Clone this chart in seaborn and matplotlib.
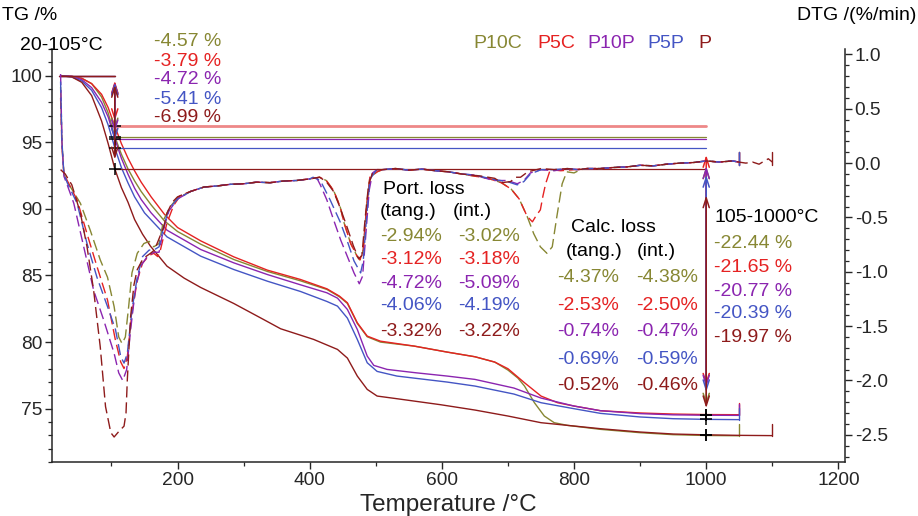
import numpy as np
import pandas as pd
import matplotlib
matplotlib.use("Agg")
import matplotlib.pyplot as plt
from matplotlib.ticker import MultipleLocator, FormatStrFormatter
import seaborn as sns

# ---------------------------------------------------------------- data
samples = ["P10C", "P5C", "P10P", "P5P", "P"]
palette = {"P10C": "#878733", "P5C": "#E52222", "P10P": "#8B25B0",
           "P5P": "#4455C4", "P": "#8E1B1B"}

loss_20_105 = [-4.57, -3.79, -4.72, -5.41, -6.99]
loss_105_1000 = [-22.44, -21.65, -20.77, -20.39, -19.97]
port_tang = [-2.94, -3.12, -4.72, -4.06, -3.32]
port_int = [-3.02, -3.18, -5.09, -4.19, -3.22]
calc_tang = [-4.37, -2.53, -0.74, -0.69, -0.52]
calc_int = [-4.38, -2.50, -0.47, -0.59, -0.46]

# TG curves (temperature in °C, mass in %)
tg_T = {
    "P10C": [23, 40, 55, 70, 85, 95, 105, 115, 125, 135, 145, 160, 180, 200, 235, 285, 336, 386,
             426, 445, 457, 472, 487, 507, 558, 608, 650, 680, 700, 715, 725, 740, 755, 770, 790,
             840, 900, 950, 1000, 1049],
    "P5C": [23, 40, 55, 70, 85, 95, 105, 115, 125, 135, 145, 160, 180, 200, 235, 285, 336, 386,
            426, 445, 457, 472, 487, 507, 558, 608, 650, 680, 700, 725, 750, 775, 800, 840, 900,
            950, 1000, 1049],
    "P10P": [23, 40, 55, 70, 85, 95, 105, 115, 125, 135, 145, 160, 184, 235, 285, 336, 386, 426,
             442, 457, 472, 487, 497, 517, 560, 608, 650, 709, 750, 800, 840, 900, 950, 1000, 1049],
    "P5P": [23, 40, 55, 70, 85, 95, 105, 115, 125, 135, 150, 184, 235, 285, 336, 386, 426, 442,
            457, 472, 487, 502, 532, 608, 650, 709, 750, 800, 840, 900, 950, 1000, 1049],
    "P": [23, 40, 55, 70, 85, 95, 105, 115, 125, 135, 147, 159, 184, 210, 235, 285, 330, 356, 406,
          442, 457, 472, 487, 502, 532, 598, 650, 700, 750, 800, 840, 900, 950, 1000, 1050, 1100],
}
tg_val = {
    "P10C": [100.0, 99.95, 99.8, 99.4, 98.4, 97.2, 95.43, 94.1, 93.0, 92.1, 91.3, 90.3, 89.1, 88.3,
             87.35, 86.2, 85.3, 84.6, 83.95, 83.4, 82.9, 81.4, 80.4, 80.0, 79.7, 79.25, 78.9, 78.5,
             77.9, 77.3, 76.7, 75.45, 74.45, 73.95, 73.75, 73.45, 73.2, 73.05, 72.99, 72.97],
    "P5C": [100.0, 99.95, 99.8, 99.4, 98.6, 97.6, 96.21, 94.9, 93.8, 92.85, 92.0, 90.9, 89.6, 88.6,
            87.6, 86.4, 85.4, 84.7, 84.0, 83.45, 82.95, 81.45, 80.45, 80.07, 79.7, 79.25, 78.9,
            78.5, 78.0, 76.95, 75.95, 75.45, 75.2, 74.85, 74.68, 74.6, 74.56, 74.55],
    "P10P": [100.0, 99.95, 99.7, 99.1, 98.0, 96.9, 95.28, 93.8, 92.6, 91.55, 90.7, 89.7, 88.4,
             86.95, 85.95, 85.07, 84.3, 83.7, 83.3, 82.45, 80.95, 78.95, 78.25, 77.95, 77.7, 77.45,
             77.2, 76.55, 75.8, 75.2, 74.85, 74.63, 74.54, 74.51, 74.5],
    "P5P": [100.0, 99.9, 99.6, 98.9, 97.6, 96.3, 94.59, 93.1, 91.95, 90.9, 89.7, 87.9, 86.45, 85.45,
            84.57, 83.8, 83.05, 82.7, 81.8, 80.2, 78.45, 77.8, 77.45, 77.0, 76.7, 76.1, 75.45, 75.0,
            74.65, 74.38, 74.25, 74.2, 74.18],
    "P": [100.0, 99.9, 99.5, 98.5, 96.6, 94.9, 93.01, 91.6, 90.5, 89.2, 88.1, 87.2, 85.7, 84.8,
          84.1, 82.9, 81.7, 81.0, 80.2, 79.45, 78.8, 77.45, 76.45, 75.95, 75.75, 75.3, 74.9, 74.45,
          73.95, 73.7, 73.5, 73.25, 73.1, 73.04, 73.0, 72.98],
}

# DTG curves (%/min); shared stretches where the curves run on top of each other
mid_T = [220, 240, 260, 280, 300, 320, 340, 360, 380, 400]
mid_v = [-0.26, -0.22, -0.21, -0.195, -0.19, -0.175, -0.18, -0.165, -0.16, -0.145]
flat_T = [510, 530, 550, 570, 590, 610, 630]
flat_v = [-0.06, -0.05, -0.065, -0.055, -0.07, -0.08, -0.1]
end_T = [820, 840, 860, 880, 900, 920, 940, 960, 980, 1000, 1020, 1040, 1049]
end_v = [-0.05, -0.05, -0.04, -0.035, -0.02, -0.025, -0.01, 0.0, 0.005, 0.02, 0.01, 0.02, 0.01]

dtg_T = {
    "P10C": [23, 25, 28, 33, 43, 53, 68, 83, 94, 104, 111, 116, 121, 126, 131, 139, 149, 157, 164,
             172, 179, 189, 200] + mid_T +
            [415, 425, 436, 446, 452, 462, 472, 476, 481, 486, 491, 502] + flat_T +
            [650, 670, 690, 705, 717, 729, 739, 749, 759, 767, 774, 782, 789, 800, 810] + end_T,
    "P5C": [23, 25, 28, 33, 48, 63, 78, 94, 106, 114, 119, 124, 131, 139, 147, 157, 164, 170, 174,
            184, 194, 204] + mid_T +
           [415, 425, 436, 446, 452, 462, 472, 476, 481, 486, 491, 502] + flat_T +
           [650, 670, 690, 705, 717, 729, 737, 742, 749, 753, 757, 764, 780, 800] + end_T,
    "P10P": [23, 25, 28, 33, 43, 58, 73, 88, 104, 111, 117, 123, 129, 136, 144, 154, 164, 172, 179,
             187, 200] + mid_T +
            [411, 416, 426, 436, 447, 457, 467, 475, 480, 485, 490, 495, 502] + flat_T +
            [650, 678, 699, 714, 724, 734, 750, 770, 790, 805] + end_T,
    "P5P": [23, 25, 28, 33, 48, 63, 78, 94, 106, 114, 119, 124, 131, 139, 147, 157, 164, 172, 179,
            187, 200] + mid_T +
           [405, 416, 431, 446, 457, 467, 477, 481, 486, 491, 500] + flat_T +
           [650, 678, 699, 714, 724, 734, 750, 770, 790, 805] + end_T,
    "P": [23, 30, 40, 53, 63, 73, 83, 91, 99, 104, 111, 119, 122, 124, 129, 134, 139, 146, 152,
          159, 165, 169, 175, 179, 184, 192, 200] + mid_T +
         [415, 425, 436, 446, 456, 466, 474, 479, 484, 489, 495, 502] + flat_T +
         [660, 680, 690, 704, 712, 719, 730, 750, 770, 790, 805] + end_T +
         [1060, 1070, 1080, 1088, 1094, 1100],
}
dtg_val = {
    "P10C": [0.70, 0.2, -0.1, -0.17, -0.27, -0.37, -0.62, -0.89, -1.05, -1.32, -1.6, -1.66, -1.6,
             -1.32, -1.01, -0.83, -0.74, -0.72, -0.77, -0.74, -0.52, -0.40, -0.32] + mid_v +
            [-0.13, -0.16, -0.25, -0.40, -0.55, -0.74, -0.86, -0.89, -0.8, -0.4, -0.13, -0.08] +
            flat_v +
            [-0.12, -0.14, -0.18, -0.24, -0.33, -0.49, -0.65, -0.77, -0.83, -0.77, -0.49, -0.19,
             -0.08, -0.09, -0.06] + end_v,
    "P5C": [0.6, 0.15, -0.1, -0.16, -0.34, -0.65, -0.95, -1.26, -1.63, -1.83, -1.89, -1.78, -1.38,
            -1.08, -0.92, -0.85, -0.83, -0.86, -0.8, -0.55, -0.39, -0.3] + mid_v +
           [-0.13, -0.16, -0.25, -0.40, -0.55, -0.74, -0.86, -0.89, -0.8, -0.4, -0.13, -0.08] +
           flat_v +
           [-0.12, -0.14, -0.18, -0.24, -0.33, -0.49, -0.54, -0.49, -0.43, -0.3, -0.19, -0.06,
            -0.07, -0.06] + end_v,
    "P10P": [0.82, 0.2, -0.12, -0.2, -0.37, -0.77, -1.17, -1.44, -1.75, -1.93, -2.0, -1.9, -1.53,
             -1.17, -0.95, -0.86, -0.82, -0.82, -0.6, -0.44, -0.33] + mid_v +
            [-0.14, -0.2, -0.34, -0.52, -0.71, -0.86, -1.01, -1.11, -1.04, -0.65, -0.25, -0.09,
             -0.06] + flat_v +
            [-0.11, -0.16, -0.16, -0.19, -0.16, -0.09, -0.06, -0.07, -0.05, -0.06] + end_v,
    "P5P": [0.75, 0.2, -0.1, -0.18, -0.37, -0.74, -1.05, -1.32, -1.53, -1.78, -1.84, -1.75, -1.35,
            -1.05, -0.86, -0.8, -0.8, -0.77, -0.58, -0.42, -0.33] + mid_v +
           [-0.13, -0.16, -0.34, -0.54, -0.72, -0.9, -1.01, -0.9, -0.5, -0.15, -0.07] + flat_v +
           [-0.11, -0.15, -0.17, -0.2, -0.17, -0.1, -0.06, -0.06, -0.05, -0.06] + end_v,
    "P": [-0.06, -0.1, -0.2, -0.46, -0.77, -1.17, -1.69, -2.24, -2.48, -2.52, -2.47, -2.42, -2.3,
          -1.99, -1.41, -1.12, -0.98, -0.9, -0.86, -0.83, -0.8, -0.74, -0.65, -0.59, -0.46, -0.36,
          -0.31] + mid_v +
         [-0.13, -0.17, -0.26, -0.41, -0.58, -0.76, -0.88, -0.85, -0.5, -0.2, -0.09, -0.06] +
         flat_v +
         [-0.12, -0.14, -0.18, -0.17, -0.13, -0.13, -0.08, -0.05, -0.06, -0.05, -0.06] + end_v +
         [0.0, 0.01, -0.01, 0.02, 0.04, 0.01],
}

tg_df = pd.concat([pd.DataFrame({"T": tg_T[s], "TG": tg_val[s], "sample": s}) for s in samples])
dtg_df = pd.concat([pd.DataFrame({"T": dtg_T[s], "DTG": dtg_val[s], "sample": s}) for s in samples])

tg_105 = {s: 100 + l for s, l in zip(samples, loss_20_105)}
tg_1000 = {s: tg_105[s] + l for s, l in zip(samples, loss_105_1000)}

# ---------------------------------------------------------------- style
sns.set_style("ticks")
plt.rcParams["font.family"] = ["Liberation Sans", "DejaVu Sans"]
plt.rcParams["axes.unicode_minus"] = False
FS = 14
TFS = 13.8

W, H = 918, 516
fig = plt.figure(figsize=(W / 100, H / 100), dpi=100)
L, R, T, B = 52, 845, 49, 462
ax = fig.add_axes([L / W, 1 - B / H, (R - L) / W, (B - T) / H])
ax2 = ax.twinx()

# ---------------------------------------------------------------- TG (solid)
for s in samples:
    d = tg_df[tg_df["sample"] == s]
    sns.lineplot(data=d, x="T", y="TG", ax=ax, color=palette[s], lw=1.0,
                 estimator=None, sort=False, legend=False)
    # end-of-run marker
    ax.plot([d["T"].iloc[-1]] * 2, [d["TG"].iloc[-1], d["TG"].iloc[-1] + 0.85],
            color=palette[s], lw=1.0)

# ---------------------------------------------------------------- step evaluation
for s in samples:
    c = palette[s]
    lw_ref = 2.0 if s == "P5C" else 0.9
    c_ref = "#EE8888" if s == "P5C" else c
    ax.plot([20, 105], [100, 100], color=c, lw=0.9)
    ax.plot([105, 1000], [tg_105[s], tg_105[s]], color=c_ref, lw=lw_ref)

for s in samples:
    c = palette[s]
    for T0, a, b in [(105, 100.0, tg_105[s]), (1000, tg_105[s], tg_1000[s])]:
        m = 0.1 * (a - b)
        ax.annotate("", xy=(T0, b + m), xytext=(T0, a - m),
                    arrowprops=dict(arrowstyle="<->,head_length=0.7,head_width=0.22",
                                    color=c, lw=1.1, shrinkA=0, shrinkB=0))
for s in samples:
    ax.plot([105, 1000], [tg_105[s], tg_1000[s]], ls="none", marker="+", ms=9, mew=1.1,
            color="black")

# ---------------------------------------------------------------- DTG (dashed)
for s in samples:
    d = dtg_df[dtg_df["sample"] == s]
    sns.lineplot(data=d, x="T", y="DTG", ax=ax2, color=palette[s], lw=1.0,
                 linestyle=(0, (8, 3.5)), estimator=None, sort=False, legend=False)
    ax2.plot([d["T"].iloc[-1]] * 2, [d["DTG"].iloc[-1] - 0.03, d["DTG"].iloc[-1] + 0.09],
             color=palette[s], lw=1.0)

# ---------------------------------------------------------------- axes
ax.set_xlim(10, 1210)
ax.set_ylim(71, 102)
ax2.set_ylim(-2.75, 1.05)
ax.xaxis.set_major_locator(MultipleLocator(200))
ax.xaxis.set_minor_locator(MultipleLocator(100))
ax.yaxis.set_major_locator(MultipleLocator(5))
ax.yaxis.set_minor_locator(MultipleLocator(1))
ax2.yaxis.set_major_locator(MultipleLocator(0.5))
ax2.yaxis.set_minor_locator(MultipleLocator(0.1))
ax2.yaxis.set_major_formatter(FormatStrFormatter("%.1f"))
ax.set_xticks([200, 400, 600, 800, 1000, 1200])

for a in (ax, ax2):
    a.spines["top"].set_visible(False)
    for sp in a.spines.values():
        sp.set_linewidth(1.1)
    a.tick_params(which="major", length=5, width=1.0, labelsize=TFS, pad=2, direction="out")
    a.tick_params(which="minor", length=2.8, width=0.9, direction="out")
ax.spines["right"].set_visible(False)
ax2.spines["left"].set_visible(False)
ax2.spines["bottom"].set_visible(False)

ax.set_xlabel("Temperature /°C", fontsize=17.5, labelpad=4)
ax.set_ylabel("")
ax2.set_ylabel("")

# ---------------------------------------------------------------- text
def ftext(x, y, s, color="black", ha="left", size=FS):
    fig.text(x / W, 1 - y / H, s, color=color, ha=ha, va="center", fontsize=size)

ftext(2, 16, "TG /%")
ftext(916, 16, "DTG /(%/min)", ha="right")
ftext(20, 46, "20-105°C")
for s, l, y in zip(samples, loss_20_105, [41, 61, 80, 99, 118]):
    ftext(154, y, f"{l:.2f} %", palette[s])

for s, x in zip(samples, [473, 537, 587, 647, 698]):
    ftext(x, 43, s, palette[s])

ftext(383, 190, "Port. loss")
ftext(380, 211, "(tang.)")
ftext(453, 211, "(int.)")
for s, a, b, y in zip(samples, port_tang, port_int, [237, 259, 283, 306, 331]):
    ftext(380, y, f"{a:.2f}%", palette[s])
    ftext(458, y, f"{b:.2f}%", palette[s])

ftext(571, 228, "Calc. loss")
ftext(566, 252, "(tang.)")
ftext(637, 252, "(int.)")
for s, a, b, y in zip(samples, calc_tang, calc_int, [277, 305, 332, 359, 386]):
    ftext(557, y, f"{a:.2f}%", palette[s])
    ftext(636, y, f"{b:.2f}%", palette[s])

ftext(714, 217, "105-1000°C")
for s, l, y in zip(samples, loss_105_1000, [243, 267, 291, 314, 338]):
    ftext(714, y, f"{l:.2f} %", palette[s])

fig.savefig("out.png", dpi=100)
